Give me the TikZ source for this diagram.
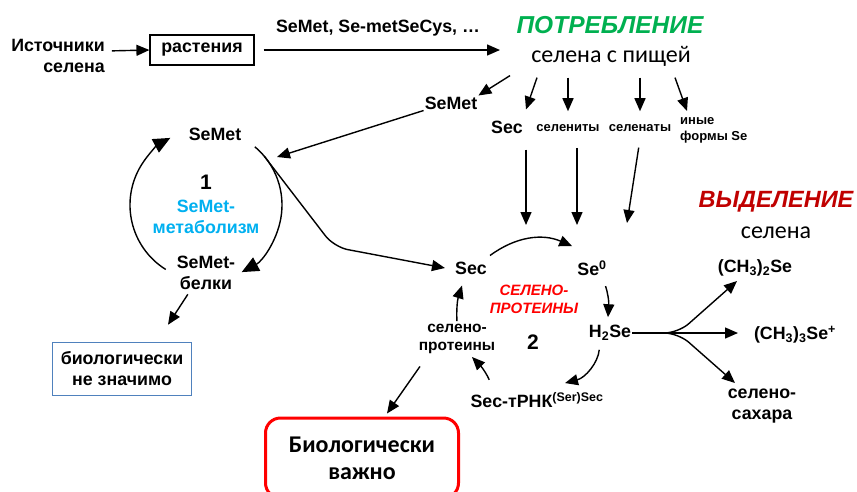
\documentclass[tikz,border=0pt]{standalone}
\usepackage{fontspec}
\setmainfont{Liberation Sans}
\newfontfamily\calibri{Carlito}
\usetikzlibrary{arrows.meta}
\definecolor{consgreen}{HTML}{00B050}
\definecolor{excrred}{HTML}{C00000}
\definecolor{metcyan}{HTML}{00B0F0}
\definecolor{boxblue}{HTML}{4F81BD}
\begin{document}
\begin{tikzpicture}[x=1pt, y=-1pt,
    lbl/.style = {font=\bfseries\fontsize{17.8}{21}\selectfont, align=center, inner sep=1pt},
    tiny/.style = {font=\bfseries\fontsize{13}{16}\selectfont, align=left, inner sep=1pt},
    arr/.style = {line width=1.4pt, -{Triangle[length=13pt,width=11pt]}},
    bigarr/.style = {line width=1.4pt, -{Triangle[length=17pt,width=15pt]}},]
	\useasboundingbox (0,0) rectangle (857,491);

	% source and intake
	\node[lbl, align=right] (src) at (58,56) {Источники\\селена};
	\node[lbl, draw, line width=1.2pt, minimum width=104pt, minimum height=30pt] (plants) at (202,50) {растения};
	\node[lbl] (foods) at (378,28) {SeMet, Se-metSeCys, …};
	\node[font=\bfseries\itshape\fontsize{24.5}{28}\selectfont, text=consgreen] (cons) at (610,25) {ПОТРЕБЛЕНИЕ};
	\node[font=\calibri\fontsize{24}{28}\selectfont] (food) at (611,56) {селена с пищей};
	\coordinate (foodin) at (500,50);

	\node[lbl] (semetA) at (451,103) {SeMet};
	\node[lbl] (secA) at (507,127) {Sec};
	\node[tiny] (selenites) at (568,128) {селениты};
	\node[tiny] (selenates) at (640,128) {селенаты};
	\node[tiny, anchor=west] (other) at (679,130) {иные\\формы Se};

	% cycle 1
	\coordinate (c1) at (206,205);
	\node[lbl] (semetB) at (215,134) {SeMet};
	\node[font=\bfseries\fontsize{21}{24}\selectfont] (one) at (206,182) {1};
	\node[lbl, text=metcyan] (metab) at (206,217) {SeMet-\\метаболизм};
	\node[lbl] (semprot) at (206,273) {SeMet-\\белки};
	\node[lbl, draw=boxblue, line width=1.5pt, minimum width=139pt, minimum height=53pt] (nsig) at (122,369) {биологически\\не значимо};
	\coordinate (c1in) at (277,157);
	\coordinate (bend1) at (334,247);

	% cycle 2
	\node[lbl] (secB) at (471,268) {Sec};
	\node[lbl] (se0) at (592,268) {Se\textsuperscript{0}};
	\node[font=\bfseries\itshape\fontsize{15}{18}\selectfont, text=red, align=center] (selprotred) at (534,299) {СЕЛЕНО-\\ПРОТЕИНЫ};
	\node[lbl] (h2se) at (610,333) {H\textsubscript{2}Se};
	\node[font=\bfseries\fontsize{21}{24}\selectfont] (two) at (533,342) {2};
	\node[font=\bfseries\fontsize{15.5}{18}\selectfont, align=center, inner sep=1pt] (selprot) at (457,339) {селено-\\протеины};
	\node[lbl] (trna) at (537,400) {Sec-тРНК\textsuperscript{(Ser)Sec}};
	\node[draw=red, line width=3pt, rounded corners=15pt, minimum width=193pt, minimum height=80pt,
		font=\calibri\bfseries\fontsize{24}{27}\selectfont, align=center] (imp) at (362,458) {Биологически\\важно};
	\coordinate (in1) at (526,225);
	\coordinate (in2) at (577,225);
	\coordinate (in3) at (627,223);

	% excretion
	\node[font=\bfseries\itshape\fontsize{23.5}{27}\selectfont, text=excrred] (excr) at (776,202) {ВЫДЕЛЕНИЕ};
	\node[font=\calibri\fontsize{24}{28}\selectfont] (excrB) at (776,233) {селена};
	\node[lbl] (dms) at (755,268) {(CH\textsubscript{3})\textsubscript{2}Se};
	\node[lbl] (tms) at (795,335) {(CH\textsubscript{3})\textsubscript{3}Se\textsuperscript{+}};
	\node[lbl] (sugars) at (762,406) {селено-\\сахара};
	\coordinate (toDms) at (737,281);
	\coordinate (toTms) at (738,333);
	\coordinate (toSug) at (735,383);

	% arrows: intake
	\draw[arr, shorten <=6pt] ([yshift=5pt]src.east) -- (plants.west);
	\draw[arr, shorten <=9pt] (plants.east) -- (foodin);
	\draw[arr] ([xshift=-101pt,yshift=-6pt]food.south) -- (semetA.north east);
	\draw[arr] ([xshift=-74pt,yshift=-8pt]food.south) -- ([xshift=19pt,yshift=10pt]secA.north);
	\draw[arr, shorten <=8pt] (food.south -| selenites) -- ([yshift=12pt]selenites.north);
	\draw[arr, shorten <=8pt] (food.south -| selenates) -- ([yshift=12pt]selenates.north);
	\draw[arr] ([xshift=64pt,yshift=-8pt]food.south) -- ([xshift=8pt,yshift=5pt]other.north west);
	\draw[arr] (semetA.south west) -- (c1in);

	% arrows: cycle 1
	\draw[bigarr] ([shift={(122:76)}]c1) arc[start angle=122, end angle=242, radius=76];
	\draw[bigarr] ([shift={(-50:76)}]c1) arc[start angle=-50, end angle=62, radius=76];
	\draw[arr, rounded corners=14pt] ([shift={(-40:76)}]c1) -- (bend1) -- ([xshift=-9pt]secB.west);
	\draw[arr, shorten <=4pt] ([xshift=-16pt]semprot.south) -- ([xshift=46pt,yshift=17pt]nsig.north);

	% arrows: cycle 2
	\draw[arr, shorten <=15pt] (secA.south -| in1) -- (in1);
	\draw[arr, shorten <=15pt] (selenites.south -| in2) -- (in2);
	\draw[arr, shorten <=15pt] ([xshift=1pt]selenates.south) -- (in3);
	\draw[arr] ([xshift=2pt,yshift=5pt]secB.north east) to[bend left=30] ([xshift=-4pt,yshift=13pt]se0.north west);
	\draw[arr, shorten <=10pt] ([xshift=10pt]se0.south) to[bend left=12] ([xshift=-2pt,yshift=7pt]h2se.north);
	\draw[arr, shorten <=8pt] ([xshift=-10pt]h2se.south) to[bend left=35] ([xshift=28pt,yshift=8pt]trna.north);
	\draw[arr, shorten <=12pt] ([xshift=24pt]trna.north west) to[bend right=12] ([xshift=15pt,yshift=-2pt]selprot.south);
	\draw[arr, shorten <=2pt] (selprot.north) to[bend left=10] ([xshift=-9pt,yshift=-10pt]secB.south);
	\draw[arr, shorten <=14pt] ([xshift=-29pt]selprot.south) -- ([xshift=25pt,yshift=3pt]imp.north);

	% arrows: excretion
	\draw[arr] (h2se.east |- toTms) -- (toTms);
	\draw[arr, rounded corners=14pt] (h2se.east |- toTms) -- ++(46,0) -- (toDms);
	\draw[arr, rounded corners=14pt] (h2se.east |- toTms) -- ++(46,0) -- (toSug);
\end{tikzpicture}
\end{document}
